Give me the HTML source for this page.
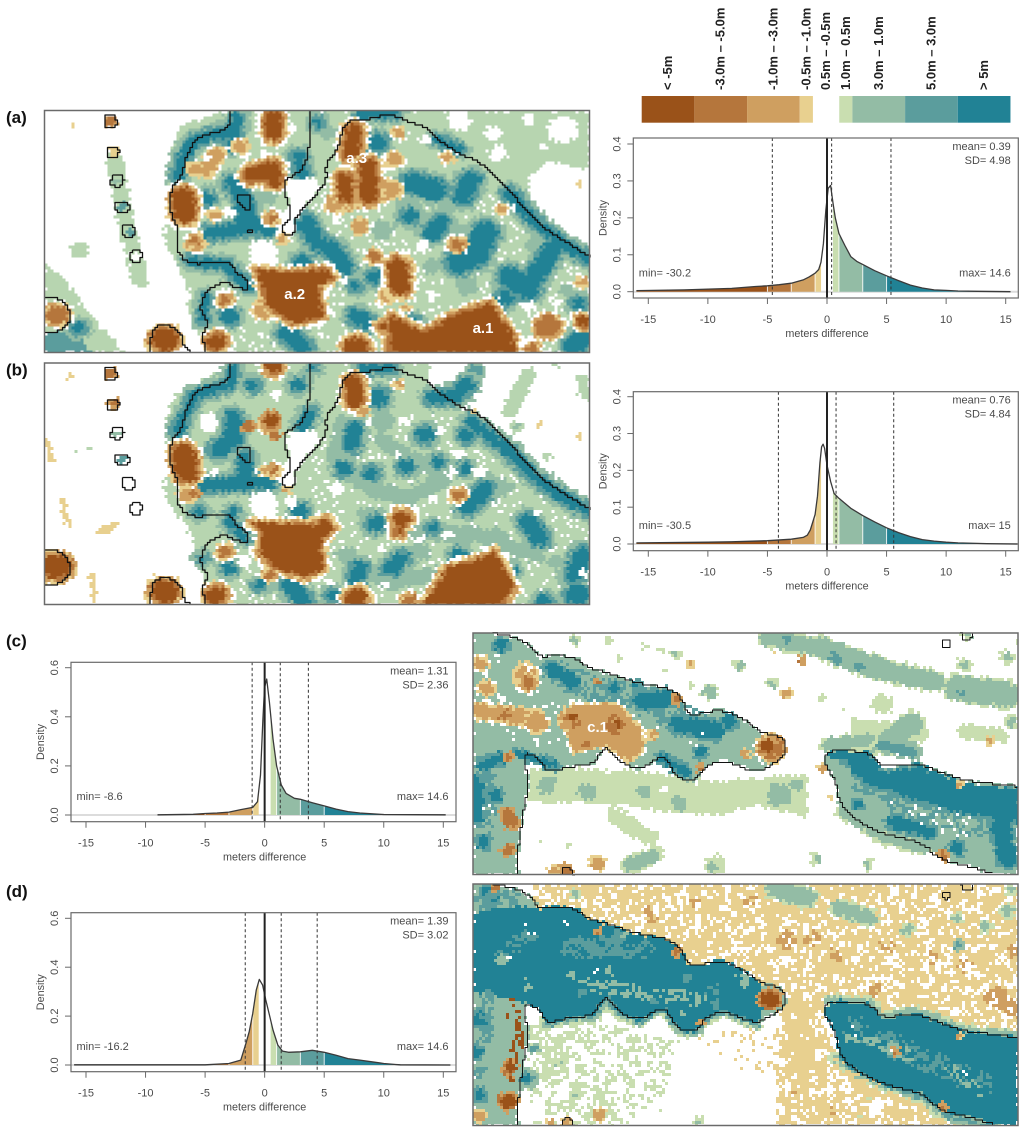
<!DOCTYPE html>
<html lang="en">
<head>
<meta charset="utf-8">
<title>Elevation difference maps and density plots</title>
<style>
html,body{margin:0;padding:0;background:#fff;}
#fig{display:block;width:1024px;height:1132px;filter:blur(.35px);}
text{font-family:"Liberation Sans",Arial,sans-serif;}
</style>
</head>
<body>
<svg id="fig" xmlns="http://www.w3.org/2000/svg" width="1024" height="1132" viewBox="0 0 1024 1132"></svg>
<script>
// ---------- legend data ----------
const classNames = ['< -5m','-3.0m \u2013 -5.0m','-1.0m \u2013 -3.0m','-0.5m \u2013 -1.0m','0.5m \u2013 -0.5m','1.0m \u2013 0.5m','3.0m \u2013 1.0m','5.0m \u2013 3.0m','> 5m'];
const classSpans = [4,4,4,1,2,1,4,4,4];

// ---------- density data (meters difference, density) ----------
const binEdges = [-5,-3,-1,-0.5,0.5,1,3,5];
const xTickValues = [-15,-10,-5,0,5,10,15];
const yTicksAB = [0,0.1,0.2,0.3,0.4];
const yTicksCD = [0,0.2,0.4,0.6];

const metersA = [-16,-12,-10,-8,-6,-5,-4,-3,-2,-1.5,-1,-0.7,-0.5,-0.3,-0.1,0.1,0.3,0.5,0.7,1,1.5,2,2.5,3,4,5,6,7,8,9,10,11,12.6,15.4];
const densityA = [0.003,0.005,0.007,0.009,0.014,0.016,0.019,0.023,0.032,0.04,0.05,0.06,0.08,0.13,0.22,0.28,0.288,0.24,0.2,0.158,0.125,0.095,0.082,0.074,0.057,0.043,0.03,0.018,0.01,0.005,0.0035,0.002,0.001,0];
const fillRangeA = [-16,12.6];
const statsA = {mean:0.39, sd:4.98, min:'-30.2', max:'14.6'};

const metersB = [-16,-10,-8,-5,-3,-2,-1.65,-1.4,-1,-0.8,-0.6,-0.45,-0.33,-0.2,0,0.3,0.6,1,2,3,4,5,6,7,8,9,10,11,13.4,16];
const densityB = [0.003,0.005,0.006,0.009,0.013,0.018,0.024,0.038,0.08,0.13,0.22,0.264,0.271,0.26,0.214,0.17,0.137,0.124,0.097,0.077,0.06,0.044,0.031,0.02,0.012,0.008,0.005,0.003,0.001,0];
const fillRangeB = [-16,13.4];
const statsB = {mean:0.76, sd:4.84, min:'-30.5', max:'15'};

const metersC = [-9,-6,-5,-4,-3,-2,-1,-0.6,-0.35,-0.15,0,0.17,0.4,0.7,1,1.4,1.8,2.5,3,4,5,6,7,8,9,10,15.2];
const densityC = [0.001,0.003,0.006,0.008,0.012,0.022,0.031,0.054,0.163,0.39,0.52,0.554,0.46,0.31,0.2,0.122,0.088,0.068,0.064,0.05,0.037,0.024,0.014,0.008,0.005,0.002,0.001];
const fillRangeC = [-6,10];
const statsC = {mean:1.31, sd:2.36, min:'-8.6', max:'14.6'};

const metersD = [-16,-5,-3,-2,-1.57,-1.3,-1,-0.7,-0.45,-0.17,0.1,0.4,0.7,1.1,1.5,2,3,4,5,6,7,8,9,10,11,11.4,15.6];
const densityD = [0.001,0.001,0.006,0.02,0.089,0.136,0.21,0.307,0.35,0.327,0.266,0.205,0.143,0.082,0.057,0.052,0.054,0.06,0.052,0.04,0.026,0.02,0.013,0.006,0.002,0.001,0];
const fillRangeD = [-4.8,11.4];
const statsD = {mean:1.39, sd:3.02, min:'-16.2', max:'14.6'};

// ---------- map data: patches of a difference class in map units ----------
// [kind, radius, e1,n1, e2,n2, ...]  radius 0 = closed area, otherwise a band along the line
const patchesA = [
['e',0,470,110,600,63,1540,63,1540,788,535,788,510,700,480,640,500,620,430,450,440,200],
['e',0,117,520,170,570,240,680,330,788,117,788],
['e',25,205,480],
['e',22,300,200,320,350,345,480,370,570],
['w',0,1380,270,1440,215,1540,240,1540,490,1480,450,1400,370],
['w',40,1470,120],['w',30,1200,95],['w',22,1290,130],['w',24,1300,190],['w',16,1380,90],['w',14,1420,170],
['G',0,117,730,200,720,240,788,117,788],
['f',22,860,130],['f',25,840,480],['f',30,1180,340],['f',28,1000,420],['f',30,870,560],['f',28,1220,590],['f',25,1130,530],['f',25,1400,460],['f',20,1000,620],['f',25,700,320],['f',20,1480,600],['f',24,1060,340,1140,440,1240,420],['f',20,1420,520,1300,590],
['t',10,585,130,510,150,480,200,465,260],
['t',10,620,85,605,170],
['t',18,535,330],
['t',18,610,280,640,330,640,400,700,415],
['t',14,640,415,550,430],
['t',12,790,255,780,200],
['t',8,830,100],
['t',20,985,160],
['t',8,945,72,1030,72],
['t',6,1140,150,1200,180],
['t',10,1330,310,1400,400,1480,470,1540,510],
['t',24,1080,280,1140,300],
['t',20,1230,270,1210,320],
['t',16,1070,380],
['t',18,800,400,830,460,870,480,900,530],
['t',18,1150,400,1130,430],
['t',28,1270,430,1240,500,1200,520],
['t',20,1440,480,1400,560],
['t',24,1330,560,1380,600],
['t',18,1320,625],
['t',16,930,680,960,700],
['t',14,1080,700],
['t',18,750,730,790,770],
['t',18,600,680],
['t',6,540,620,530,690],
['t',9,500,515,590,525,620,560,650,590],
['t',18,790,520],
['t',22,1500,770,1530,740],
['t',16,980,560],
['t',10,930,590],
['t',12,1510,640],
['t',12,205,715],
['n',0,800,260,1340,330,1540,520,1540,788,560,788,760,600],
['w',0,740,300,760,270,830,265,830,310,780,370,770,430,730,430,730,400,760,340],
['w',40,690,490],['w',14,665,520],
['w',18,1100,470],['w',16,1000,235],['w',14,1240,640],['w',14,1130,620],['w',14,1450,640],['w',16,880,385],['w',10,900,575],['w',12,1340,350],['w',14,720,290],['w',16,600,370],['w',18,1380,650],['w',14,990,640],['w',14,1190,710],['w',16,860,670],['w',14,510,300],['w',14,640,190],['w',14,760,120],['w',10,690,190],['w',14,1110,150],
['w',20,150,660],
['c',18,540,240,570,190],['c',16,510,240],['w',10,545,205],
['c',18,630,170],
['a',20,715,85,715,130],
['a',20,660,255,710,235,715,270],
['a',19,925,125,915,190],
['c',28,880,340,1020,300],
['c',20,1030,210],['c',14,1040,130],['c',22,940,410],['c',14,1170,205],
['a',17,900,270,905,320],
['a',21,960,230,965,320],
['a',28,480,325,482,370],
['c',24,510,460],['b',12,510,450],['c',14,560,375],
['c',26,690,660],
['a',0,670,540,760,550,850,540,870,565,830,590,840,680,770,700,700,650,690,600],
['c',18,1010,620],['b',14,980,500],
['a',24,1040,530,1045,590],
['b',16,1195,465],['b',12,710,385],['c',11,740,445],
['b',14,590,630],['a',22,565,755],
['b',28,150,675],
['a',34,430,750],['a',30,930,775],
['a',0,1020,788,1020,680,1110,730,1180,680,1280,640,1310,690,1340,740,1340,788],
['a',10,1000,710],
['b',14,1390,775],
['b',32,1430,710],['a',14,1525,695],
['c',14,1520,580],['c',12,1310,360],['d',7,1515,285],['c',8,1060,655],
['d',14,297,187],['l',12,288,95],['d',6,195,105],['d',6,278,580],
['F',13,307,275],['G',12,320,353],['G',13,338,425],['W',14,355,500]
];
const patchesB = [
['e',0,440,160,430,420,500,540,520,620,530,660,530,748,1540,748,1540,460,1400,360,1320,270,1230,190,1120,90,1120,25,600,25,470,110],
['e',20,1330,170,1380,60],['e',16,1520,70,1530,120],['e',12,1430,305],['e',12,1450,25],['f',10,1350,215],
['e',8,232,285],['e',6,200,290],
['f',30,1000,200],['f',30,880,290],['f',28,1150,370],['f',28,1100,590],['f',26,900,600],['f',25,1300,540],['f',22,1450,620],['f',22,1300,280],
['f',24,900,200,880,330,970,400,1060,430,1150,380],['f',22,1000,260,1100,330,1220,340,1320,400],['f',24,960,480,1100,530,1250,540,1400,600],['f',24,900,600,1020,680,1200,650,1300,620],
['g',20,1240,50],
['t',6,610,40,600,90],
['t',9,580,95,510,120,480,190,465,230],
['t',12,660,90],['t',12,780,90],['t',4,820,40],
['t',18,610,190,610,250,570,285],
['t',14,640,310,640,380,700,385],
['t',14,640,385,540,390],
['t',6,610,470,600,500,640,550],['t',10,520,470],
['t',10,810,175,790,220],
['t',22,985,130],['t',8,950,40,1020,40],
['t',14,1130,130,1190,125,1220,90],
['t',10,1230,200,1330,290,1400,370,1490,440,1540,470],
['t',14,925,220,920,270],['t',14,900,340],['t',14,970,355],
['t',18,1110,240],['t',15,1060,335],['t',10,1145,320],['t',14,1220,240],['t',10,1215,340],
['t',16,1270,400,1220,460],['t',18,1380,500,1410,550],['t',9,1130,520],
['t',18,980,505],['t',15,785,470],['t',15,1050,610,1020,640],['t',16,940,640,930,670],
['t',14,1200,600],['t',20,1520,600,1500,660],['t',24,1510,720],['t',14,1420,740],
['t',18,760,690,790,730],['t',11,600,640],['t',10,680,690],['t',10,870,720],['t',5,530,610],['t',14,1330,650],
['n',0,860,200,1200,180,1540,480,1540,748,540,748,760,480],
['w',0,740,262,760,232,830,227,830,272,780,332,770,392,730,392,730,362,760,302],
['w',40,690,450],['w',16,760,440],
['w',26,545,200],['w',14,560,350],
['w',14,1200,300],['w',18,1250,350],['w',20,880,400],['w',14,1130,430],['w',14,1150,230],['w',14,1060,200],['w',12,1000,580],['w',14,1170,540],['w',12,1330,600],['w',12,1525,655],['w',14,860,680],['w',14,720,120],['w',20,640,620],['w',12,1290,450],['w',12,1400,470],['w',10,1040,300],['w',12,960,200],['w',12,1180,350],['w',10,1010,690],['w',12,1090,470],['w',9,1100,550],
['a',18,715,35],['a',20,925,85,925,135],['m',12,950,170],
['c',22,700,210],['k',18,710,195],['l',13,650,215],['l',10,720,240],
['a',29,480,300,488,350],
['c',20,490,420],['l',12,510,415],
['b',10,715,345],['c',8,690,350],['m',8,750,405],['c',10,1040,90],
['a',0,660,505,830,510,850,490,870,520,835,560,840,640,800,665,720,640,680,590,690,530],
['a',20,1050,490],['a',10,1040,530],
['b',15,1198,420],['b',15,590,590],['b',10,705,660],
['a',36,150,635],['a',34,430,710],['a',24,565,720],['a',26,930,730],['b',16,1070,735],
['a',0,1110,748,1170,640,1260,610,1290,590,1320,650,1340,700,1310,748],
['d',10,185,65],['l',12,288,55],['l',10,297,148],
['d',8,122,260,135,320],['d',9,160,430,185,510],['d',11,265,535,300,510],['d',7,240,660,245,730],['d',3,150,390],['d',3,290,360],['d',4,195,560],
['d',7,1410,210],['d',8,1515,245],['d',7,1240,170],['d',5,1290,40],['d',3,840,340],
['F',11,307,235],['G',12,320,315]
];
const patchesC = [
['f',24,850,40,1000,70],['f',32,1000,70,1150,130],['f',28,1150,130,1320,170],
['g',14,900,45],['g',16,1040,100],['g',14,1105,125],
['f',36,1380,190,1520,210],['g',10,1390,210],
['e',30,1170,240],['e',22,1100,300,1280,330],['f',34,1250,300,1200,340],
['f',18,1060,360,1250,370],['g',14,1130,350,1260,385],
['e',22,1400,320,1500,330],['f',14,1530,290],['f',14,1400,120],['f',14,1520,100],['f',10,1410,30],
['e',10,500,60],['e',10,550,75],['f',9,590,90],['f',11,310,45],['e',12,400,50],['e',9,430,100],['e',9,630,180],['f',18,685,200],['f',14,770,120],['f',11,860,175],['e',10,1000,220],['e',6,560,140],['e',8,1070,250],['e',7,1550,50],
['e',0,180,430,350,430,500,440,700,470,960,450,960,580,820,540,720,570,550,560,450,540,300,530,180,530],
['w',10,400,440],['w',12,560,490],['w',8,650,470],['w',9,720,460],
['f',26,230,480],['f',24,340,500],['f',20,500,500],['f',22,600,535],['f',34,880,510],['f',18,930,480],
['e',24,420,570,520,640],['f',20,460,720,530,690],['e',30,700,720],['f',14,690,730],['e',8,210,650],['e',10,980,690],['f',11,1130,720],['f',10,985,700],['e',9,290,660],
['F',0,22,25,80,25,150,40,190,70,205,98,260,90,320,105,345,130,400,145,480,175,575,190,610,225,625,272,670,265,715,255,770,275,830,325,870,330,900,350,900,390,860,420,815,445,730,405,680,420,650,465,610,465,580,435,565,400,540,400,490,435,430,410,400,362,380,380,360,420,290,425,230,445,210,400,165,380,165,420,180,470,165,550,155,620,145,710,150,748,22,748],
['o',40,300,170,500,230,700,320],['o',24,60,450,60,650],
['T',16,100,60],['T',16,240,130,300,170],['T',22,500,230,560,220],['T',22,600,300,700,320],['T',18,740,290],['T',24,22,480,22,570],['T',14,85,510],
['T',12,50,420,100,400],['T',16,50,650],['T',7,150,385,250,420],['T',9,550,400,620,440],['T',8,480,180],['T',12,420,190],['T',12,660,380],
['s',60,150,300,300,300],['s',30,660,350],['s',20,60,560],
['c',20,60,190],['c',30,170,150],['w',10,175,125],['b',18,175,175],['w',8,90,100],['w',8,60,145],['w',8,100,220],
['c',18,40,115],
['c',22,40,260,200,280],['l',14,110,270],['c',28,200,290],
['c',0,260,280,300,240,430,240,490,310,500,370,460,410,390,360,300,380,290,320],
['l',26,300,285],['l',28,420,300],['k',9,300,280],['k',10,430,300],['l',14,340,360],
['w',6,245,240],['w',7,500,320],
['c',12,525,330],
['b',34,860,370],['k',18,850,365],['m',13,785,385],['l',11,595,225],['l',8,660,430],
['l',18,120,570,130,590],['l',16,120,675],['l',10,120,395],
['m',18,370,715],['m',15,250,735],['l',16,285,735],
['m',12,900,205],['m',6,630,115],['l',7,942,105],['l',6,370,170],['m',11,1005,430],['d',10,1020,515],['d',6,870,85],['m',8,1470,345],['d',7,1525,680],
['f',20,1020,360,1130,345],['f',16,1060,560,1180,640,1290,670],
['F',0,1020,380,1060,375,1140,385,1170,430,1260,410,1400,470,1550,485,1550,748,1480,745,1400,720,1340,705,1280,650,1200,625,1100,590,1050,540,1040,470,1005,410],
['o',40,1120,470,1300,560,1500,620],
['T',0,1060,400,1140,400,1170,450,1260,430,1400,490,1550,500,1550,590,1400,560,1250,520,1120,470],
['T',22,1500,600,1520,700],['T',14,1200,590,1300,620],['T',16,1380,670],['T',9,1100,540],
['H',8,1020,390,1130,385],['H',5,1260,420,1400,480,1550,495],
['s',40,1250,560,1400,610],['w',6,1190,530],['w',6,1280,570],['m',7,1385,480],['l',11,1340,690]
];
const patchesD = [
['x',0,300,18,1550,18,1550,470,1380,455,1260,400,1150,420,1100,370,1020,370,1000,420,1040,520,1050,540,1200,630,1330,700,1400,720,1470,742,880,742,870,620,890,440,900,350,830,320,760,270,700,250,625,270,580,190,450,160,350,130,290,90,200,90,190,18],
['y',0,180,18,340,18,300,70,200,70],
['r',40,925,400,940,540],['r',24,940,620],
['r',18,1000,35,1170,30],['r',22,830,250],['r',14,1000,260],
['q',30,900,190],['q',22,970,180],['q',20,800,70],['q',18,650,80],['q',18,1040,230],['q',22,1180,210],['q',24,1300,240],['q',18,1150,340],['q',20,1400,260],['q',26,520,110],
['Q',34,1490,360],['Q',30,1540,390],['Q',18,1540,220],['Q',24,905,190],
['f',26,870,35,960,60],['f',22,1050,90,1130,120],['f',15,1240,155],['f',13,1460,145],['f',17,1520,100],['f',13,1380,120],['g',12,1385,205],['f',11,1530,35],['f',10,310,45],
['F',0,22,18,80,18,150,33,190,63,205,91,250,300,210,393,165,373,165,413,180,463,165,543,155,613,145,703,150,742,22,742],
['f',14,230,438,290,418,360,413,400,355,430,403,490,428,540,393,565,393,580,428,610,458,650,458,680,413,730,398,815,438],
['g',7,230,438,290,418,360,413,400,355,430,403,490,428,540,393,565,393,580,428,610,458,650,458,680,413,730,398,815,438],
['F',0,830,318,870,323,900,343,900,383,860,413,815,438,800,400],
['H',0,205,91,260,83,320,98,345,123,400,138,480,168,575,183,610,218,625,265,670,258,715,248,770,268,830,318,830,420,815,438,730,398,680,413,650,458,610,458,580,428,565,393,540,393,490,428,430,403,400,355,380,373,360,413,290,418,230,438,210,393,165,373,22,340,22,105,90,88],
['T',22,70,50],['T',20,40,420],['T',14,30,520],['T',13,40,650],
['o',24,40,70,130,60],['o',24,110,230,180,170],['o',20,60,350,60,480],['o',22,40,580],
['G',16,340,200],['G',20,430,180],['F',9,450,170],['F',12,300,290],['F',12,400,280],
['G',14,620,300],['F',16,780,310],['G',12,700,380],['G',12,330,340],['F',8,610,410],['G',12,530,370],
['o',30,300,210,500,210],['p',22,340,320,650,360],['o',26,700,340],['p',20,780,300],['p',20,100,250],['p',18,170,320],
['s',26,180,160],['s',16,280,130],['s',18,110,250],['s',18,380,285],['s',18,620,320],
['u',16,130,380,150,480,130,590],['k',14,125,570],['k',20,120,670],['m',17,40,715],['k',4,85,25],
['k',24,855,365],['l',10,595,222],['l',7,660,430],['l',6,370,160],
['f',12,1020,368,1130,372,1170,420,1260,398,1400,458,1550,474],
['f',14,1040,540,1110,590,1200,625,1290,660,1350,712,1480,748],
['g',6,1040,540,1110,590,1200,625,1290,660,1350,712,1480,748],
['H',0,1020,373,1060,368,1140,378,1170,423,1260,403,1400,463,1550,478,1550,742,1480,738,1400,713,1330,698,1280,643,1180,623,1100,583,1050,533,1040,463,1003,403],
['o',34,1090,450,1250,530,1450,620],['p',18,1080,470,1240,530],['p',16,1360,570,1450,640],
['G',14,1100,440],['G',10,1400,600],
['s',22,1090,460],['s',20,1200,500],['s',24,1400,590],
['m',6,1385,475],['l',7,1340,685],['l',6,1205,520],
['v',0,180,450,330,430,480,460,600,490,560,640,450,742,200,742,170,600],
['E',13,280,540],['E',11,230,590],['E',9,400,610],['E',7,340,585],['E',6,470,680],['g',10,195,510],['f',8,265,555],['t',8,170,600],['f',8,310,650],['E',5,550,700],
['m',16,375,710],['m',14,285,730],['m',10,240,735],
['f',7,655,730],
['z',0,640,470,880,440,880,600,760,560],
['y',0,1040,540,1330,720,1400,742,880,742,880,620,960,500],
['r',20,1000,690],['q',16,1030,690],['q',12,920,650],
['w',24,1150,690],
['E',5,1130,660],['E',5,1110,720]
];
const outlinesAB = [
[603,63,600,120,520,140,490,190,480,240,470,275,450,285,443,370,470,420,460,470,480,515,520,525,600,510,620,555,650,570,650,600,620,595,590,575,540,600,520,660,545,700,530,730,535,788],
[810,63,810,170,795,240,745,270,740,300,755,340,760,390,730,420,750,440,770,430,770,380,830,310,855,270,850,220,885,180,890,130,910,90,945,95,1020,72,1060,95,1110,110,1140,150,1210,200,1245,210,1330,300,1400,400,1480,460,1540,500],
[275,85,280,75,300,75,305,90,305,115,275,115,272,100,275,85],
[285,175,310,170,312,205,285,205,280,190,285,175],
[295,258,320,258,326,275,315,293,295,290,288,275,295,258],
[305,337,335,337,340,353,332,372,307,372,302,353,305,337],
[322,408,350,405,354,445,325,445,322,408],
[345,483,368,483,373,500,365,517,345,517,340,500,345,483],
[620,320,640,315,655,322,655,358,640,360,630,340,620,338,620,320],
[648,418,658,418,658,428,648,428,648,418],
[117,625,165,625,190,680,165,725,117,730],
[395,788,395,730,420,700,470,720,480,770,498,788]
];
const outlinesCD = [
[80,25,150,40,190,70,205,98,260,90,320,105,345,130,400,145,480,175,575,190,610,225,625,272,670,265,715,255,770,275,830,325,870,330,900,350,900,390,860,420,815,445,730,405,680,420,650,465,610,465,580,435,565,400,540,400,490,435,430,410,400,362,380,380,360,420,290,425,230,445,210,400,165,380,165,420,180,470,165,550,155,620,145,710,150,748],
[1550,485,1430,470,1380,460,1260,410,1170,430,1140,385,1060,375,1020,380,1003,410,1040,470,1050,540,1100,590,1180,630,1280,650,1330,705,1400,720,1480,745],
[270,748,275,728,290,722,305,748],
[1340,50,1355,45,1365,60,1350,72,1338,62,1340,50],
[1390,25,1395,45,1420,45,1420,25]
];

// ---------- styling ----------
const CLASS_FILL = {A:'#9a5219',B:'#b5763c',C:'#cf9f60',D:'#e8d08f',E:'#c9deb0',F:'#93bca5',G:'#5b9d9d',H:'#218295'};
const LIGHT_GREEN_AB = '#b7d5b0';
const CLASS_ORDER = ['A','B','C','D',null,'E','F','G','H'];
// layer: [class, extra radius, density, only-over class, clumped]
const RAMP = {
  e:[['E',0]], f:[['E',7],['F',0]], g:[['F',8],['G',0]],
  t:[['F',26],['G',14],['H',4]], T:[['G',12],['H',3]],
  a:[['D',18],['C',13],['B',6],['A',0]], b:[['D',12],['C',7],['B',0]], c:[['D',7],['C',0]], d:[['D',0]],
  k:[['C',12],['B',6],['A',0]], l:[['C',7],['B',0]], m:[['D',6],['C',0]],
  w:[['W',0]], W:[['W',0]], A:[['A',0]], E:[['E',0]], F:[['F',0]], G:[['G',0]], H:[['H',0]],
  x:[['D',0,.62,null,true]], y:[['D',0,.4,null,true]], z:[['D',0,.24,null,true]], q:[['C',0,.5,null,true]], Q:[['C',0,.72,null,true]], r:[['D',0,.86,null,true]],
  v:[['E',0,.46,null,true]], s:[['W',0,.1]], u:[['A',0,.5,null,true]], n:[['W',0,.09,'E']],
  o:[['G',0,.5,null,true]], p:[['F',0,.45,null,true]]
};
const WHITE_RING = {a:24, b:17, c:10};
const TEXTURE = [.62,.08,.91,.35,.17,.77,.49,.95,.26,.58,.03,.83,.41,.69,.12,.54,.88,.31,.21,.73,.45,.98,.06,.65,.38,.15,.8,.52,.28,.93,.11];

const NS = 'http://www.w3.org/2000/svg';
const fig = document.getElementById('fig');
function mk(tag, parent, attrs, txt){
  const n = document.createElementNS(NS, tag);
  for (const k in attrs) n.setAttribute(k, attrs[k]);
  if (txt !== undefined) n.textContent = txt;
  parent.appendChild(n);
  return n;
}
function tex(i,j){ return TEXTURE[(i*3 + j*7 + (i*j)%5 + (i>>2)*(j>>2)) % TEXTURE.length]; }

// ---------- map raster ----------
const CELL = 3;
function hit(px,py,f,h){
  const r = f[1], pts = f.slice(2), n = pts.length/2;
  let best = Infinity;
  if (n === 1) best = Math.hypot(px-pts[0], py-pts[1]);
  const closed = r === 0;
  const segs = closed ? n : n-1;
  let inside = false;
  for (let k=0;k<segs;k++){
    const a=k*2, b=((k+1)%n)*2;
    const x1=pts[a],y1=pts[a+1],x2=pts[b],y2=pts[b+1];
    const dx=x2-x1,dy=y2-y1;
    const t=Math.max(0,Math.min(1,((px-x1)*dx+(py-y1)*dy)/(dx*dx+dy*dy||1)));
    best=Math.min(best,Math.hypot(px-x1-t*dx,py-y1-t*dy));
    if (closed && ((y1>py)!==(y2>py)) && px<x1+(py-y1)/(y2-y1)*(x2-x1)) inside=!inside;
  }
  return inside || best <= r+h;
}
function smooth(o){
  let p=o.slice();
  for (let it=0;it<2;it++){
    const out=[p[0],p[1]];
    for (let q=0;q+3<p.length;q+=2){
      out.push(p[q]*.75+p[q+2]*.25,p[q+1]*.75+p[q+3]*.25,p[q]*.25+p[q+2]*.75,p[q+1]*.25+p[q+3]*.75);
    }
    out.push(p[p.length-2],p[p.length-1]);
    p=out;
  }
  return p;
}
function drawMap(name, patches, outlines, box, domX, domY, outlineDY, palette, lineWidth){
  const g = mk('g', fig, {});
  
  
  const mapX = e => box.x + (e-domX[0])/(domX[1]-domX[0])*box.w;
  const mapY = n => box.y + (n-domY[0])/(domY[1]-domY[0])*box.h;
  const nx = Math.ceil(box.w/CELL), ny = Math.ceil(box.h/CELL);
  const grid = new Array(nx*ny).fill('W');
  const ux = (domX[1]-domX[0])/box.w*CELL, uy = (domY[1]-domY[0])/box.h*CELL;
  function paint(f, layer){
    const r = f[1], h = layer[1];
    let x0=Infinity,x1=-Infinity,y0=Infinity,y1=-Infinity;
    for (let q=2;q<f.length;q+=2){x0=Math.min(x0,f[q]);x1=Math.max(x1,f[q]);y0=Math.min(y0,f[q+1]);y1=Math.max(y1,f[q+1]);}
    const m=r+h+8;
    const i0=Math.max(0,Math.floor((x0-m-domX[0])/ux)), i1=Math.min(nx-1,Math.ceil((x1+m-domX[0])/ux));
    const j0=Math.max(0,Math.floor((y0-m-domY[0])/uy)), j1=Math.min(ny-1,Math.ceil((y1+m-domY[0])/uy));
    for (let j=j0;j<=j1;j++) for (let i=i0;i<=i1;i++){
      const a = tex(i,j), b = tex(j+5,i+2);
      if (layer[2] !== undefined){
        const fine = tex(i+11,j+3);
        const v = layer[4] ? (tex((i>>1)+11,((j+((i>>1)&1))>>1)+3)+fine)/2 : fine;
        if (v >= layer[2]) continue;
      }
      if (layer[3] && grid[j*nx+i]!==layer[3]) continue;
      const px = domX[0]+(i+.5)*ux+(a-.5)*12, py = domY[0]+(j+.5)*uy+(b-.5)*12;
      if (hit(px,py,f,h)) grid[j*nx+i]=layer[0];
    }
  }
  let ringsDone = false, s = 0;
  while (s < patches.length){
    let t = s;
    while (t < patches.length && patches[t][0] === patches[s][0]) t++;
    const kind = patches[s][0];
    if (!ringsDone && WHITE_RING[kind]){
      ringsDone = true;
      for (let k=s;k<patches.length;k++){
        const ring = WHITE_RING[patches[k][0]];
        if (ring) paint(patches[k], ['W',ring]);
      }
    }
    for (const layer of RAMP[kind]){
      for (let k=s;k<t;k++) paint(patches[k], layer);
    }
    s = t;
  }
  // merge runs per class into one path each
  const paths = {};
  for (let j=0;j<ny;j++){
    let i=0;
    while(i<nx){
      const c=grid[j*nx+i]; let e=i;
      while(e<nx && grid[j*nx+e]===c) e++;
      if (c!=='W'){
        const w=Math.min((e-i)*CELL, box.w-i*CELL), hh=Math.min(CELL, box.h-j*CELL);
        paths[c]=(paths[c]||'')+'M'+(box.x+i*CELL)+' '+(box.y+j*CELL)+'h'+w+'v'+hh+'h'+(-w)+'z';
      }
      i=e;
    }
  }
  for (const c in paths){
    const el = mk('path', g, {d:paths[c], fill:palette[c]||CLASS_FILL[c]});
    
    
  }
  outlines.forEach(o=>{
    const p = smooth(o);
    let d='', lx=null, ly=null;
    for (let q=0;q+3<p.length;q+=2){
      const x1=mapX(p[q]),y1=mapY(p[q+1]-outlineDY),x2=mapX(p[q+2]),y2=mapY(p[q+3]-outlineDY);
      const steps=Math.max(1,Math.ceil(Math.hypot(x2-x1,y2-y1)));
      for (let u=0;u<=steps;u++){
        const qx=Math.round((x1+(x2-x1)*u/steps)/2.5)*2.5, qy=Math.round((y1+(y2-y1)*u/steps)/2.5)*2.5;
        if (lx===null) d+='M'+qx+' '+qy;
        else if (qx!==lx||qy!==ly) d+='L'+qx+' '+ly+'L'+qx+' '+qy;
        lx=qx; ly=qy;
      }
    }
    const el = mk('path', g, {d:d, fill:'none', stroke:'#111', 'stroke-width':lineWidth, 'stroke-linejoin':'round'});
    
    
  });
  const fr = mk('rect', g, {x:box.x,y:box.y,width:box.w,height:box.h,fill:'none',stroke:'#6a6a6a','stroke-width':1.5});
  
  
}

// ---------- density plot ----------
function interp(xs,ys,x){
  if (x<=xs[0]) return ys[0];
  for (let i=1;i<xs.length;i++) if (x<=xs[i]) return ys[i-1]+(x-xs[i-1])/(xs[i]-xs[i-1])*(ys[i]-ys[i-1]);
  return ys[ys.length-1];
}
function drawDensity(name, xs, ys, fillRange, stats, yTicks, yMaxTick, frame){
  const g = mk('g', fig, {});
  
  
  const X = v => frame.x15 + (v+15)/30*(frame.xp15-frame.x15);
  const Y = v => frame.y0 + v/yMaxTick*(frame.yTop-frame.y0);
  const base = mk('line', g, {x1:frame.left,x2:frame.right,y1:Y(0),y2:Y(0),stroke:'#dcdcdc','stroke-width':2});
  
  
  const lows=[-Infinity].concat(binEdges), highs=binEdges.concat([Infinity]);
  CLASS_ORDER.forEach((c,i)=>{
    if(!c) return;
    const lo=Math.max(lows[i],fillRange[0]), hi=Math.min(highs[i],fillRange[1]);
    if (hi<=lo) return;
    let d='M'+X(lo)+' '+Y(0)+'L'+X(lo)+' '+Y(interp(xs,ys,lo));
    xs.forEach((v,k)=>{ if(v>lo&&v<hi) d+='L'+X(v)+' '+Y(ys[k]); });
    d+='L'+X(hi)+' '+Y(interp(xs,ys,hi))+'L'+X(hi)+' '+Y(0)+'Z';
    const el = mk('path', g, {d:d, fill:CLASS_FILL[c]});
    
    
  });
  binEdges.forEach(v=>{
    if (v===-0.5||v===0.5||v<fillRange[0]||v>fillRange[1]) return;
    const el = mk('line', g, {x1:X(v),x2:X(v),y1:Y(0),y2:Y(interp(xs,ys,v)),stroke:'#fff','stroke-width':1,opacity:.85});
    
    
  });
  [stats.mean-stats.sd, stats.mean, stats.mean+stats.sd].forEach(v=>{
    const el = mk('line', g, {x1:X(v),x2:X(v),y1:frame.top,y2:frame.bottom,stroke:'#333','stroke-width':1,'stroke-dasharray':'3 2.5'});
    
    
  });
  const curve = mk('polyline', g, {points:xs.map((v,k)=>X(v).toFixed(1)+','+Y(ys[k]).toFixed(1)).join(' '),fill:'none',stroke:'#3a3a3a','stroke-width':1.3,'stroke-linejoin':'round'});
  
  
  const zero = mk('line', g, {x1:X(0),x2:X(0),y1:frame.top,y2:frame.bottom,stroke:'#222','stroke-width':2});
  
  
  const box = mk('rect', g, {x:frame.left,y:frame.top,width:frame.right-frame.left,height:frame.bottom-frame.top,fill:'none',stroke:'#6a6a6a','stroke-width':1.2});
  
  
  const tc='#4a4a4a';
  xTickValues.forEach(v=>{
    const t = mk('line', g, {x1:X(v),x2:X(v),y1:frame.bottom,y2:frame.bottom+6,stroke:'#6a6a6a','stroke-width':1});
    
    
    const l = mk('text', g, {x:X(v),y:frame.bottom+25,'text-anchor':'middle','font-size':11,fill:tc}, String(v));
    
    
  });
  yTicks.forEach(v=>{
    const t = mk('line', g, {x1:frame.left-6,x2:frame.left,y1:Y(v),y2:Y(v),stroke:'#6a6a6a','stroke-width':1});
    
    
    const px = frame.left-13;
    const l = mk('text', g, {x:px,y:Y(v),'text-anchor':'middle','font-size':11,fill:tc,transform:'rotate(-90 '+px+' '+Y(v)+')'}, v.toFixed(1));
    
    
  });
  const xt = mk('text', g, {x:X(0),y:frame.bottom+39,'text-anchor':'middle','font-size':10.8,fill:tc}, 'meters difference');
  
  
  const yx=frame.left-27, yy=(frame.top+frame.bottom)/2;
  const yt = mk('text', g, {x:yx,y:yy,'text-anchor':'middle','font-size':10.8,fill:tc,transform:'rotate(-90 '+yx+' '+yy+')'}, 'Density');
  
  
  const tm = mk('text', g, {x:frame.right-7.5,y:frame.top+12,'text-anchor':'end','font-size':11,fill:tc}, 'mean= '+stats.mean.toFixed(2));
  
  
  const ts = mk('text', g, {x:frame.right-7.5,y:frame.top+26,'text-anchor':'end','font-size':11,fill:tc}, 'SD= '+stats.sd.toFixed(2));
  
  
  const tn = mk('text', g, {x:frame.left+5.5,y:frame.y0-15,'font-size':11,fill:tc}, 'min= '+stats.min);
  
  
  const tx = mk('text', g, {x:frame.right-7.5,y:frame.y0-15,'text-anchor':'end','font-size':11,fill:tc}, 'max= '+stats.max);
  
  
}

// ---------- compose ----------
drawMap('map-a', patchesA, outlinesAB, {x:44.5,y:110.5,w:545,h:242}, [117,1540], [63,788], 0, {E:LIGHT_GREEN_AB}, 1.3);
drawMap('map-b', patchesB, outlinesAB, {x:44.5,y:363,w:545,h:241.5}, [117,1540], [25,748], 38, {E:LIGHT_GREEN_AB}, 1.3);
drawMap('map-c', patchesC, outlinesCD, {x:473,y:633,w:545,h:241.5}, [22,1550], [25,748], 0, {}, 1);
drawMap('map-d', patchesD, outlinesCD, {x:473,y:884,w:545,h:241.5}, [22,1550], [18,742], 7, {}, 1);

const frA = {left:633.3,right:1018.3,top:138,bottom:298,x15:648.3,xp15:1005.7,y0:291.7,yTop:144};
const frB = {left:633.3,right:1018.3,top:391.7,bottom:550.7,x15:648.3,xp15:1005.7,y0:544,yTop:396.7};
const frC = {left:71,right:456,top:662.3,bottom:821.7,x15:86,xp15:443.3,y0:815,yTop:667.7};
const frD = {left:71,right:456,top:912.7,bottom:1071.7,x15:86,xp15:443.3,y0:1065,yTop:918.3};
drawDensity('density-a', metersA, densityA, fillRangeA, statsA, yTicksAB, 0.4, frA);
drawDensity('density-b', metersB, densityB, fillRangeB, statsB, yTicksAB, 0.4, frB);
drawDensity('density-c', metersC, densityC, fillRangeC, statsC, yTicksCD, 0.6, frC);
drawDensity('density-d', metersD, densityD, fillRangeD, statsD, yTicksCD, 0.6, frD);

// legend
const legendGroup = mk('g', fig, {});


const legendLeft = 641.7, legendUnit = 13.17;
let legendAt = 0;
classNames.forEach((label,i)=>{
  const w = classSpans[i]*legendUnit, x = legendLeft+legendAt*legendUnit;
  if (CLASS_ORDER[i]){
    const r = mk('rect', legendGroup, {x:x,y:96,width:w,height:26.7,fill:CLASS_FILL[CLASS_ORDER[i]]});
    
    
  }
  const cx = x+w/2+4;
  const t = mk('text', legendGroup, {x:cx,y:90,'font-size':13,'font-weight':'bold',fill:'#222',transform:'rotate(-90 '+cx+' 90)'}, label);
  
  
  legendAt += classSpans[i];
});

// panel letters
const panelLetters = [['(a)',6,123],['(b)',6,375.7],['(c)',6,646.7],['(d)',6,897]];
panelLetters.forEach(p=>{
  const t = mk('text', fig, {x:p[1],y:p[2],'font-size':17,'font-weight':'bold',fill:'#111'}, p[0]);
  
  
});
// site labels on maps
const siteLabels = [['a.1',483,333],['a.2',294.7,299],['a.3',356.7,163],['c.1',597.6,732]];
siteLabels.forEach(p=>{
  const t = mk('text', fig, {x:p[1],y:p[2],'font-size':15,'font-weight':'bold','text-anchor':'middle',fill:'#fff'}, p[0]);
  
  
});
</script>
</body>
</html>
